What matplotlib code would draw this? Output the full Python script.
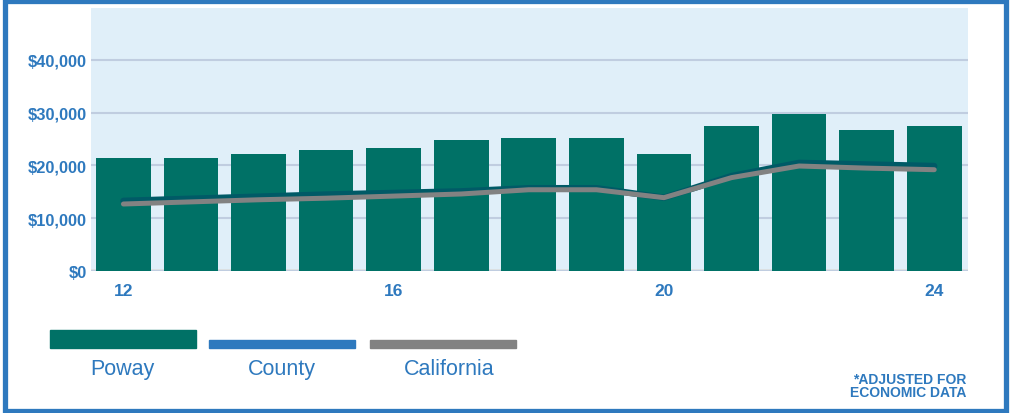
import numpy as np
import matplotlib
matplotlib.use("Agg")
import matplotlib.pyplot as plt
from matplotlib.patches import Rectangle
from matplotlib.ticker import FuncFormatter

# per-capita values, years '12 - '24
years = [12, 13, 14, 15, 16, 17, 18, 19, 20, 21, 22, 23, 24]
poway = [21400, 21400, 22200, 22900, 23300, 24800, 25200, 25200, 22200, 27500, 29800, 26700, 27500]
county = [13300, 13700, 14100, 14500, 14800, 15100, 15700, 15700, 13900, 18000, 20500, 20200, 19900]
california = [12700, 13100, 13500, 13800, 14200, 14600, 15400, 15400, 13900, 17700, 19900, 19500, 19200]

legend_names = ["Poway", "County", "California"]
xticks = [12, 16, 20, 24]
yticks = [0, 10000, 20000, 30000, 40000]

blue = "#2e79be"
teal = "#007166"
grey = "#828282"
dark = "#005a66"

plt.rcParams["font.family"] = ["Liberation Sans", "DejaVu Sans"]

fig = plt.figure(figsize=(10.12, 4.14), dpi=100)
ax = fig.add_axes([91 / 1012, 1 - 272 / 414, (968 - 91) / 1012, (272 - 9) / 414])
ax.set_facecolor("#e0eff9")

ax.bar(years, poway, width=0.81, color=teal, zorder=2)
ax.plot(years, county, color=dark, lw=4.6, solid_capstyle="round", zorder=3)
ax.plot(years, california, color=grey, lw=3.6, solid_capstyle="round", zorder=4)

ax.set_xlim(11.52, 24.5)
ax.set_ylim(0, 49850)
ax.set_yticks(yticks)
ax.set_xticks(xticks)
ax.yaxis.set_major_formatter(FuncFormatter(lambda v, p: "${:,.0f}".format(v)))
ax.grid(axis="y", color="#c0cde0", lw=1.5, zorder=1)
ax.axhline(0, color="#d6b79c", lw=2.5, zorder=1)
for s in ax.spines.values():
    s.set_visible(False)
ax.tick_params(length=0, labelcolor=blue)
for lab in ax.get_yticklabels():
    lab.set_fontsize(11.8)
    lab.set_fontweight("bold")
for lab in ax.get_xticklabels():
    lab.set_fontsize(12.5)
    lab.set_fontweight("bold")
ax.tick_params(axis="y", pad=3)
ax.tick_params(axis="x", pad=9)

# legend drawn by hand in pixel coords
def px(x, y):
    return x / 1012, 1 - y / 414

leg_items = [(legend_names[0], teal, 50, 331, 18, 122),
             (legend_names[1], blue, 209, 341, 8, 282),
             (legend_names[2], grey, 370, 341, 8, 449)]
for name, col, x0, y0, h, tx in leg_items:
    fx, fy = px(x0, y0 + h)
    fig.patches.append(Rectangle((fx, fy), 146 / 1012, h / 414, transform=fig.transFigure,
                                 color=col, zorder=3))
    fig.text(*px(tx, 370), name, color=blue, fontsize=15.5, ha="center", va="center")

fig.text(*px(966, 380), "*ADJUSTED FOR", color=blue, fontsize=10, fontweight="bold",
         ha="right", va="center")
fig.text(*px(966, 393), "ECONOMIC DATA", color=blue, fontsize=10, fontweight="bold",
         ha="right", va="center")

# outer frame
fig.patches.append(Rectangle(px(5.5, 412), 1000.5 / 1012, 410 / 414, transform=fig.transFigure,
                             fill=False, edgecolor=blue, lw=3.8, zorder=5))

fig.savefig("out.png", dpi=100)
